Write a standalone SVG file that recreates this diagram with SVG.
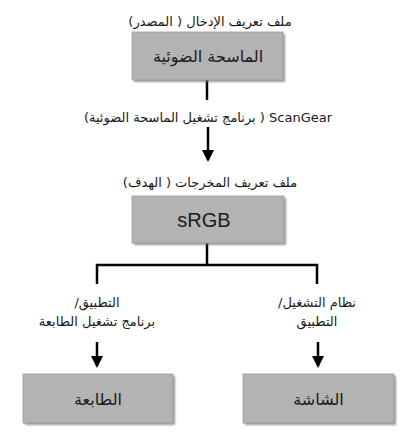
<svg xmlns="http://www.w3.org/2000/svg" width="416" height="446" viewBox="0 0 416 446">
<defs>
<style>
.box{fill:#b3b3b3;stroke:#9c9c9c;stroke-width:0.8}
.shadow{fill:#6e6e6e;opacity:0.7}
.lbl{font-family:"DejaVu Sans","Liberation Sans",sans-serif;font-size:13px;fill:#1a1a1a;text-anchor:middle;direction:rtl}
.btxt{font-family:"DejaVu Sans","Liberation Sans",sans-serif;font-size:16px;fill:#1a1a1a;text-anchor:middle;direction:rtl}
.line{stroke:#000;stroke-width:2.5;fill:none}
</style>
<marker id="ah" markerWidth="5" markerHeight="5" refX="4.2" refY="2.5" orient="auto" markerUnits="strokeWidth">
<path d="M0,0 L5,2.5 L0,5 Z" fill="#000"/>
</marker>
<filter id="sh" x="-10%" y="-10%" width="130%" height="130%"><feGaussianBlur stdDeviation="0.8"/></filter>
</defs>
<rect width="416" height="446" fill="#fff"/>
<g id="connectors">
<line class="line" x1="207" y1="80" x2="207" y2="100"/>
<line class="line" x1="208" y1="127" x2="208" y2="160" marker-end="url(#ah)"/>
<polyline class="line" points="207,243 207,265"/>
<polyline class="line" points="97,284 97,265 317,265 317,284"/>
<line class="line" x1="97" y1="342" x2="97" y2="366" marker-end="url(#ah)"/>
<line class="line" x1="318" y1="342" x2="318" y2="366" marker-end="url(#ah)"/>
</g>
<g id="label-source"><text class="lbl" x="210" y="26">ملف تعريف الإدخال ( المصدر)</text></g>
<g id="node-scanner">
<rect class="shadow" x="134" y="34" width="151" height="48" filter="url(#sh)"/>
<rect class="box" x="132" y="32" width="151" height="48"/>
<text class="btxt" x="208" y="62">الماسحة الضوئية</text>
</g>
<g id="label-scangear"><text class="lbl" x="208" y="122">ScanGear ( برنامج تشغيل الماسحة الضوئية)</text></g>
<g id="label-target"><text class="lbl" x="210" y="187">ملف تعريف المخرجات ( الهدف)</text></g>
<g id="node-srgb">
<rect class="shadow" x="134" y="198" width="152" height="47" filter="url(#sh)"/>
<rect class="box" x="132" y="196" width="152" height="47"/>
<text x="204" y="227" style="font-family:'Liberation Sans',Arial,sans-serif;font-size:20px;fill:#1a1a1a;text-anchor:middle">sRGB</text>
</g>
<g id="label-left">
<text class="lbl" x="97" y="307">التطبيق/</text>
<text class="lbl" x="97" y="326">برنامج تشغيل الطابعة</text>
</g>
<g id="label-right">
<text class="lbl" x="317" y="307">نظام التشغيل/</text>
<text class="lbl" x="317" y="326">التطبيق</text>
</g>
<g id="node-printer">
<rect class="shadow" x="25" y="376" width="150" height="49" filter="url(#sh)"/>
<rect class="box" x="23" y="374" width="150" height="49"/>
<text class="btxt" x="98" y="405">الطابعة</text>
</g>
<g id="node-monitor">
<rect class="shadow" x="245" y="376" width="151" height="49" filter="url(#sh)"/>
<rect class="box" x="243" y="374" width="151" height="49"/>
<text class="btxt" x="318.5" y="405">الشاشة</text>
</g>
</svg>
